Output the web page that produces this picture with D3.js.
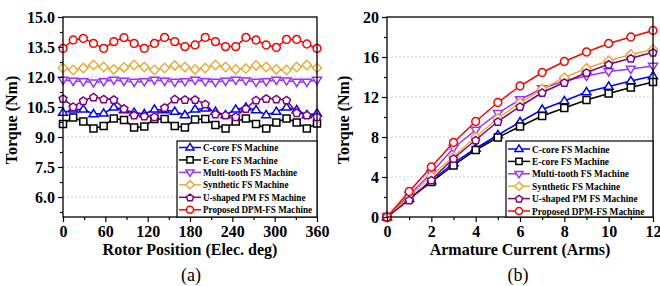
<!DOCTYPE html>
<html>
<head>
<meta charset="utf-8">
<script src="https://cdn.jsdelivr.net/npm/d3@7"></script>
<style>
  body { margin: 0; background: #fff; }
  svg { display: block; font-family: "Liberation Serif", "Times New Roman", serif; }
</style>
</head>
<body>
<div id="chart"></div>
<script>
// Panel (a): torque vs rotor position
const rotorPos = [0, 14.4, 28.8, 43.2, 57.6, 72, 86.4, 100.8, 115.2, 129.6, 144, 158.4, 172.8,
  187.2, 201.6, 216, 230.4, 244.8, 259.2, 273.6, 288, 302.4, 316.8, 331.2, 345.6, 360];
const cCoreRipple = [10.22, 10.38, 10.38, 10.15, 10.18, 10.48, 10.35, 10.22, 10.15, 10.38, 10.35, 10.27, 10.1,
  10.38, 10.43, 10.27, 10.1, 10.38, 10.48, 10.35, 10.1, 10.27, 10.48, 10.35, 10.1, 10.18];
const eCoreRipple = [9.65, 9.98, 9.77, 9.43, 9.55, 9.93, 9.85, 9.48, 9.52, 9.9, 9.9, 9.55, 9.48,
  9.88, 9.9, 9.6, 9.43, 9.77, 9.93, 9.65, 9.43, 9.73, 9.93, 9.72, 9.43, 9.68];
const multiRipple = [11.85, 11.8, 11.78, 11.72, 11.78, 11.85, 11.8, 11.75, 11.78, 11.85, 11.8, 11.75, 11.78,
  11.85, 11.78, 11.75, 11.8, 11.85, 11.82, 11.75, 11.78, 11.85, 11.82, 11.75, 11.75, 11.85];
const syntheticRipple = [12.45, 12.35, 12.45, 12.6, 12.5, 12.38, 12.48, 12.6, 12.5, 12.35, 12.45, 12.58, 12.5,
  12.38, 12.45, 12.6, 12.5, 12.38, 12.42, 12.58, 12.5, 12.38, 12.35, 12.5, 12.6, 12.45];
const uShapedRipple = [10.93, 10.52, 10.82, 11.0, 10.9, 10.88, 10.43, 10.1, 10.05, 10.02, 10.48, 10.9, 10.88,
  10.88, 10.65, 10.15, 10.1, 10.02, 10.43, 10.85, 10.93, 10.9, 10.85, 10.22, 10.1, 10.02];
const proposedRipple = [13.43, 13.85, 13.93, 13.68, 13.43, 13.77, 13.97, 13.68, 13.43, 13.68, 13.98, 13.77, 13.52,
  13.6, 13.98, 13.77, 13.52, 13.52, 13.98, 13.85, 13.6, 13.48, 13.88, 13.88, 13.65, 13.43];

// Panel (b): torque vs armature current
const currents = [0, 1, 2, 3, 4, 5, 6, 7, 8, 9, 10, 11, 12];
const cCoreTorque = [0, 1.85, 3.6, 5.4, 6.85, 8.2, 9.5, 10.75, 11.6, 12.5, 13.05, 13.6, 14.1];
const eCoreTorque = [0, 1.8, 3.5, 5.15, 6.7, 7.95, 9.05, 10.1, 10.9, 11.7, 12.35, 12.95, 13.5];
const multiTorque = [0, 2.2, 4.4, 6.9, 8.7, 10.37, 11.75, 12.85, 13.6, 14.1, 14.55, 14.8, 15.1];
const syntheticTorque = [0, 2.0, 4.1, 6.05, 8.0, 9.87, 11.4, 12.8, 13.93, 14.87, 15.63, 16.25, 16.75];
const uShapedTorque = [0, 1.7, 3.7, 5.85, 7.7, 9.55, 11.05, 12.45, 13.45, 14.45, 15.27, 15.87, 16.47];
const proposedTorque = [0, 2.55, 5.0, 7.45, 9.55, 11.45, 13.1, 14.45, 15.55, 16.5, 17.35, 18.0, 18.65];

const seriesNames = ["C-core FS Machine", "E-core FS Machine", "Multi-tooth FS Machine",
  "Synthetic FS Machine", "U-shaped PM FS Machine", "Proposed DPM-FS Machine"];
const seriesColors = ["#0000ff", "#000000", "#9933ff", "#e8ac3c", "#800080", "#ff0000"];
const seriesMarkers = ["triUp", "square", "triDown", "diamond", "pentagon", "circle"];

const rotorTicks = [0, 60, 120, 180, 240, 300, 360];
const ripTicks = [6.0, 7.5, 9.0, 10.5, 12.0, 13.5, 15.0];
const currentTicks = [0, 2, 4, 6, 8, 10, 12];
const torqueTicks = [0, 4, 8, 12, 16, 20];

const W = 660, H = 286;
const svg = d3.select("#chart").append("svg").attr("width", W).attr("height", H);

function markerPath(type, r) {
  if (type === "circle") return d3.symbol(d3.symbolCircle, Math.PI * r * r)();
  if (type === "square") { const s = r * 0.9; return `M${-s},${-s}H${s}V${s}H${-s}Z`; }
  if (type === "diamond") { const s = r * 1.2; return `M0,${-s}L${s},0L0,${s}L${-s},0Z`; }
  if (type === "triUp") { const s = r * 1.15; return `M0,${-s}L${s},${s * 0.6}L${-s},${s * 0.6}Z`; }
  if (type === "triDown") { const s = r * 1.15; return `M0,${s}L${s},${-s * 0.6}L${-s},${-s * 0.6}Z`; }
  if (type === "pentagon") {
    const pts = d3.range(5).map(i => {
      const a = -Math.PI / 2 + i * 2 * Math.PI / 5;
      return [r * 1.05 * Math.cos(a), r * 1.05 * Math.sin(a) + 0.5];
    });
    return "M" + pts.map(p => p.join(",")).join("L") + "Z";
  }
}

function drawPanel(opt) {
  const x = d3.scaleLinear().domain(opt.xDomain).range([opt.left, opt.right]);
  const y = d3.scaleLinear().domain(opt.yDomain).range([opt.bottom, opt.top]);
  const g = svg.append("g");

  // grid
  g.selectAll(".grid").data(opt.yTicks.filter(t => t !== opt.yDomain[1] && t !== opt.yDomain[0]))
    .enter().append("line")
    .attr("x1", opt.left).attr("x2", opt.right)
    .attr("y1", d => y(d)).attr("y2", d => y(d))
    .attr("stroke", "#c8c8c8").attr("stroke-width", 0.8).attr("stroke-dasharray", "2,2");

  // series
  opt.series.forEach((vals, i) => {
    const pts = opt.xVals.map((v, j) => [v, vals[j]]);
    g.append("path").datum(pts)
      .attr("fill", "none").attr("stroke", seriesColors[i]).attr("stroke-width", 1.5)
      .attr("d", d3.line().x(d => x(d[0])).y(d => y(d[1])));
    g.selectAll(null).data(pts).enter().append("path")
      .attr("transform", d => `translate(${x(d[0])},${y(d[1])})`)
      .attr("d", markerPath(seriesMarkers[i], 3.9))
      .attr("fill", "#fff").attr("stroke", seriesColors[i]).attr("stroke-width", 1.5);
  });

  // frame
  g.append("rect").attr("x", opt.left).attr("y", opt.top)
    .attr("width", opt.right - opt.left).attr("height", opt.bottom - opt.top)
    .attr("fill", "none").attr("stroke", "#000").attr("stroke-width", 1.3);

  // axes
  const xAxis = g.append("g").attr("transform", `translate(0,${opt.bottom})`)
    .call(d3.axisBottom(x).tickValues(opt.xTicks).tickSize(5).tickPadding(4).tickFormat(d3.format("d")));
  const xMinor = g.append("g").attr("transform", `translate(0,${opt.bottom})`)
    .call(d3.axisBottom(x).tickValues(opt.xMinor).tickSize(3).tickFormat(""));
  const yAxis = g.append("g").attr("transform", `translate(${opt.left},0)`)
    .call(d3.axisLeft(y).tickValues(opt.yTicks).tickSize(5).tickPadding(3).tickFormat(opt.yFormat));
  const yMinor = g.append("g").attr("transform", `translate(${opt.left},0)`)
    .call(d3.axisLeft(y).tickValues(opt.yMinor).tickSize(3).tickFormat(""));
  [xAxis, xMinor, yAxis, yMinor].forEach(a => {
    a.select(".domain").remove();
    a.selectAll("line").attr("stroke", "#000").attr("stroke-width", 1.2);
    a.selectAll("text").attr("font-family", "Liberation Serif, Times New Roman, serif")
      .attr("font-weight", "bold").attr("font-size", 16).attr("fill", "#000");
  });

  // titles
  g.append("text").attr("x", (opt.left + opt.right) / 2).attr("y", opt.bottom + 38)
    .attr("text-anchor", "middle").attr("font-weight", "bold").attr("font-size", 16)
    .text(opt.xTitle);
  g.append("text")
    .attr("transform", `translate(${opt.yTitleX},${(opt.top + opt.bottom) / 2 + 3}) rotate(-90)`)
    .attr("text-anchor", "middle").attr("font-weight", "bold").attr("font-size", 16)
    .text("Torque (Nm)");
  g.append("text").attr("x", opt.captionX).attr("y", 281)
    .attr("text-anchor", "middle").attr("font-size", 18).text(opt.caption);

  // legend
  const L = opt.legend;
  const lg = g.append("g");
  lg.append("rect").attr("x", L.x).attr("y", L.y).attr("width", opt.right - L.x).attr("height", opt.bottom - L.y)
    .attr("fill", "#fff").attr("stroke", "#000").attr("stroke-width", 1.2);
  seriesNames.forEach((name, i) => {
    const cy = L.y + L.first + i * L.step;
    lg.append("line").attr("x1", L.x + 2).attr("x2", L.x + 24).attr("y1", cy).attr("y2", cy)
      .attr("stroke", seriesColors[i]).attr("stroke-width", 1.5);
    lg.append("path").attr("transform", `translate(${L.x + 13},${cy})`)
      .attr("d", markerPath(seriesMarkers[i], 3.5))
      .attr("fill", "#fff").attr("stroke", seriesColors[i]).attr("stroke-width", 1.5);
    lg.append("text").attr("transform", `translate(${L.x + 26},${cy + 3.6}) scale(0.93,1)`)
      .attr("font-weight", "bold").attr("font-size", L.fs).text(name);
  });
}

drawPanel({
  left: 63, right: 317, top: 17, bottom: 217,
  xDomain: [0, 360], yDomain: [5, 15],
  xVals: rotorPos,
  series: [cCoreRipple, eCoreRipple, multiRipple, syntheticRipple, uShapedRipple, proposedRipple],
  xTicks: rotorTicks, xMinor: [30, 90, 150, 210, 270, 330],
  yTicks: ripTicks, yMinor: [5.25, 6.75, 8.25, 9.75, 11.25, 12.75, 14.25],
  yFormat: d3.format(".1f"),
  xTitle: "Rotor Position (Elec. deg)", yTitleX: 17,
  caption: "(a)", captionX: 191,
  legend: { x: 177, y: 141, first: 6.5, step: 12.45, fs: 9.8 }
});

drawPanel({
  left: 387, right: 653, top: 17, bottom: 217,
  xDomain: [0, 12], yDomain: [0, 20],
  xVals: currents,
  series: [cCoreTorque, eCoreTorque, multiTorque, syntheticTorque, uShapedTorque, proposedTorque],
  xTicks: currentTicks, xMinor: [1, 3, 5, 7, 9, 11],
  yTicks: torqueTicks, yMinor: [2, 6, 10, 14, 18],
  yFormat: d3.format("d"),
  xTitle: "Armature Current (Arms)", yTitleX: 349,
  caption: "(b)", captionX: 518,
  legend: { x: 506, y: 141, first: 8, step: 12.4, fs: 10.1 }
});
</script>
</body>
</html>
